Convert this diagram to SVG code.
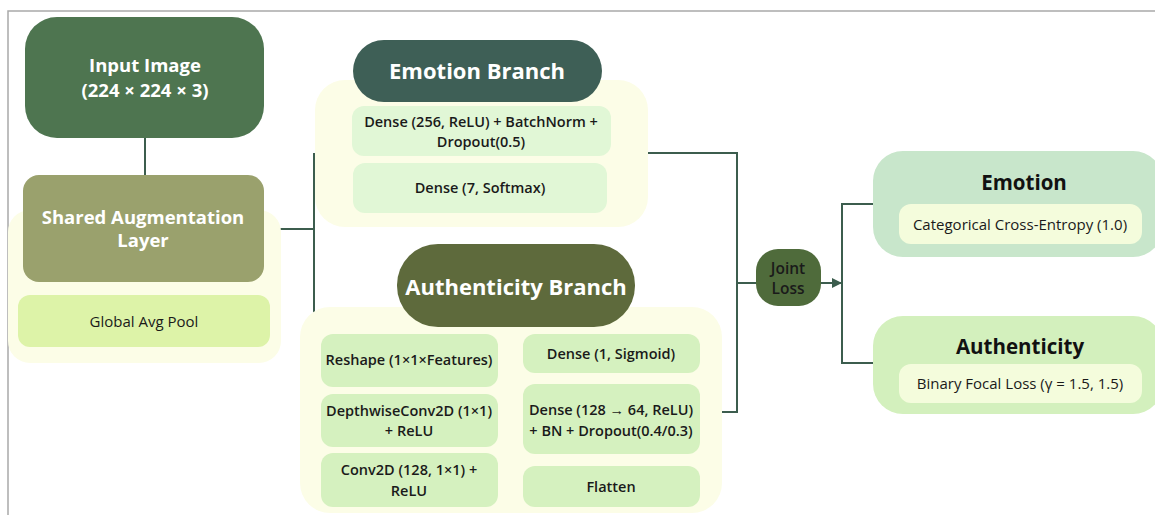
<svg xmlns="http://www.w3.org/2000/svg" width="1155" height="515" viewBox="0 0 1155 515">
  <defs>
    <style>
      .t { font-family: "Open Sans", "Liberation Sans", sans-serif; text-anchor: middle; }
      .title { font-size: 18.5px; font-weight: 700; fill: #ffffff; }
      .branch { font-size: 22px; font-weight: 700; fill: #ffffff; }
      .layer { font-size: 14.5px; font-weight: 600; fill: #1a1a1a; }
      .plain { font-size: 15px; font-weight: 400; fill: #1a1a1a; }
      .head { font-size: 20.5px; font-weight: 700; fill: #111111; }
      .panel { fill: #fcfde7; }
      .lyr { fill: #d5f1bf; }
      .wire { fill: none; stroke: #3c5d4e; stroke-width: 2; }
    </style>
    <marker id="arrow" viewBox="0 0 10 10" refX="9" refY="5" markerWidth="5" markerHeight="5" orient="auto">
      <path d="M0,0 L10,5 L0,10 z" fill="#3c5d4e"/>
    </marker>
  </defs>

  <rect width="1155" height="515" fill="#ffffff"/>
  <!-- frame -->
  <path d="M8,515 V11 H1155" fill="none" stroke="#a9a9a9" stroke-width="1.5"/>

  <!-- connectors -->
  <g id="connectors">
    <path class="wire" d="M145,138 V176"/>
    <path class="wire" d="M264,229 H314"/>
    <path class="wire" d="M314,153 V313"/>
    <path class="wire" d="M648,153 H737 V412 H722"/>
    <path class="wire" d="M737,283 H757"/>
    <path class="wire" d="M821,283 H841" marker-end="url(#arrow)"/>
    <path class="wire" d="M873,204 H842 V363 H873"/>
  </g>

  <!-- input -->
  <g id="input-image">
    <rect x="25" y="17" width="239" height="121" rx="32" fill="#4e7550"/>
    <text class="t title" x="145" y="72">Input Image</text>
    <text class="t title" x="145" y="97">(224 × 224 × 3)</text>
  </g>

  <!-- shared trunk -->
  <g id="shared-trunk">
    <rect class="panel" x="8" y="210" width="273" height="153" rx="22"/>
    <rect x="23" y="175" width="241" height="107" rx="16" fill="#9aa16d"/>
    <text class="t title" x="143" y="224" fill="#f4f4e6">Shared Augmentation</text>
    <text class="t title" x="143" y="247" fill="#f4f4e6">Layer</text>
    <rect x="18" y="295" width="252" height="52" rx="12" fill="#ddf3a8"/>
    <text class="t plain" x="144" y="327">Global Avg Pool</text>
  </g>

  <!-- emotion branch -->
  <g id="emotion-branch">
    <rect class="panel" x="315" y="80" width="333" height="147" rx="30"/>
    <rect x="353" y="40" width="249" height="62" rx="31" fill="#3e5f56"/>
    <text class="t branch" x="477" y="79">Emotion Branch</text>
    <rect x="352" y="106" width="259" height="50" rx="12" fill="#e1f7d6"/>
    <text class="t layer" x="481" y="127">Dense (256, ReLU) + BatchNorm +</text>
    <text class="t layer" x="481" y="147">Dropout(0.5)</text>
    <rect x="353" y="163" width="254" height="50" rx="12" fill="#e1f7d6"/>
    <text class="t layer" x="480" y="193">Dense (7, Softmax)</text>
  </g>

  <!-- authenticity branch -->
  <g id="authenticity-branch">
    <rect class="panel" x="300" y="307" width="422" height="206" rx="30"/>
    <rect x="397" y="244" width="238" height="83" rx="41" fill="#5e6a3c"/>
    <text class="t branch" x="516" y="295">Authenticity Branch</text>
    <rect class="lyr" x="321" y="334" width="177" height="53" rx="12"/>
    <text class="t layer" x="409" y="365">Reshape (1×1×Features)</text>
    <rect class="lyr" x="321" y="394" width="177" height="53" rx="12"/>
    <text class="t layer" x="409" y="416">DepthwiseConv2D (1×1)</text>
    <text class="t layer" x="409" y="436">+ ReLU</text>
    <rect class="lyr" x="321" y="453" width="177" height="54" rx="12"/>
    <text class="t layer" x="409" y="475">Conv2D (128, 1×1) +</text>
    <text class="t layer" x="409" y="496">ReLU</text>
    <rect class="lyr" x="523" y="334" width="177" height="39" rx="12"/>
    <text class="t layer" x="611" y="359">Dense (1, Sigmoid)</text>
    <rect class="lyr" x="523" y="384" width="177" height="70" rx="12"/>
    <text class="t layer" x="611" y="415">Dense (128 → 64, ReLU)</text>
    <text class="t layer" x="611" y="436">+ BN + Dropout(0.4/0.3)</text>
    <rect class="lyr" x="523" y="466" width="177" height="41" rx="12"/>
    <text class="t layer" x="611" y="492">Flatten</text>
  </g>

  <!-- joint loss -->
  <g id="joint-loss">
    <rect x="756" y="249" width="65" height="57" rx="22" fill="#4f6b3b"/>
    <text class="t layer" x="788" y="274" fill="#ffffff" style="font-size:15.5px">Joint</text>
    <text class="t layer" x="788" y="294" fill="#ffffff" style="font-size:15.5px">Loss</text>
  </g>

  <!-- loss heads -->
  <g id="emotion-loss">
    <rect x="873" y="151" width="290" height="106" rx="30" fill="#c8e6cb"/>
    <text class="t head" x="1024" y="190">Emotion</text>
    <rect x="899" y="204" width="243" height="40" rx="12" fill="#f4fcdc"/>
    <text class="t plain" x="1020" y="230">Categorical Cross-Entropy (1.0)</text>
  </g>

  <g id="authenticity-loss">
    <rect x="873" y="316" width="290" height="98" rx="30" fill="#d3f0bd"/>
    <text class="t head" x="1020" y="354">Authenticity</text>
    <rect x="899" y="364" width="243" height="39" rx="12" fill="#f4fcdc"/>
    <text class="t plain" x="1020" y="389">Binary Focal Loss (γ = 1.5, 1.5)</text>
  </g>
</svg>
